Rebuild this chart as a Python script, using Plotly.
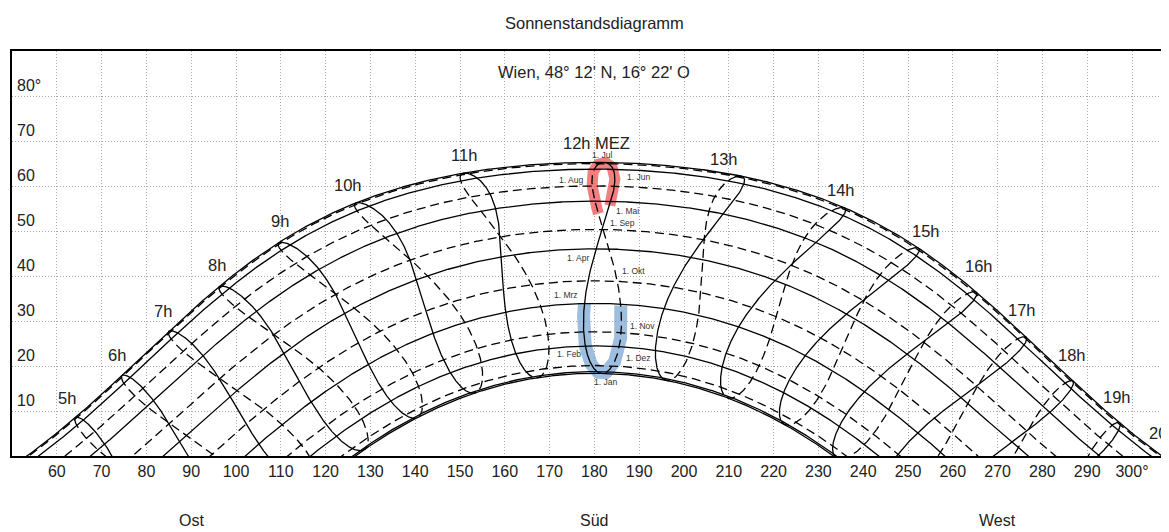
import numpy as np
import plotly.graph_objects as go

# ------------------------------------------------------------------ data
CHART_TITLE = "Sonnenstandsdiagramm"
SITE_TITLE = "Wien, 48° 12' N, 16° 22' O"
LATITUDE_DEG = 48 + 12 / 60          # 48° 12' N
LONGITUDE_DEG = 16 + 22 / 60         # 16° 22' O
UTC_OFFSET_H = 1                      # MEZ

DATE_LABELS = ["1. Jan", "1. Feb", "1. Mrz", "1. Apr", "1. Mai", "1. Jun",
               "1. Jul", "1. Aug", "1. Sep", "1. Okt", "1. Nov", "1. Dez"]
DATE_DAY_OF_YEAR = [1, 32, 60, 91, 121, 152, 182, 213, 244, 274, 305, 335]
SOLSTICE_DAY_OF_YEAR = [172, 355]     # 21. Jun, 21. Dez
HALF_YEAR_SPLIT_DAY = 182             # 1. Jul: solid before, dashed after

HOURS_MEZ = [5, 6, 7, 8, 9, 10, 11, 12, 13, 14, 15, 16, 17, 18, 19, 20]
HOUR_LABELS = ["5h", "6h", "7h", "8h", "9h", "10h", "11h", "12h MEZ",
               "13h", "14h", "15h", "16h", "17h", "18h", "19h", "20h"]

AZIMUTH_TICKS = [60, 70, 80, 90, 100, 110, 120, 130, 140, 150, 160, 170, 180,
                 190, 200, 210, 220, 230, 240, 250, 260, 270, 280, 290, 300]
AZIMUTH_TICK_LABELS = ["60", "70", "80", "90", "100", "110", "120", "130",
                       "140", "150", "160", "170", "180", "190", "200", "210",
                       "220", "230", "240", "250", "260", "270", "280", "290",
                       "300°"]
ALTITUDE_TICKS = [10, 20, 30, 40, 50, 60, 70, 80]
ALTITUDE_TICK_LABELS = ["10", "20", "30", "40", "50", "60", "70", "80°"]
DIRECTION_LABELS = ["Ost", "Süd", "West"]
DIRECTION_AZIMUTHS = [90, 180, 270]

# highlighted stretches of the 12h MEZ line (day of year, start -> end)
MARK_HOUR = 12
SUMMER_MARK_DAYS = (118, 234)        # ~28. Apr .. ~22. Aug
WINTER_MARK_DAYS = (288, 425)        # ~15. Okt .. ~1. Mrz (next year)

# ------------------------------------------------------------------ layout / style
PAGE_OFFSET = 8                      # default body margin of the html page
W, H = 1169 - PAGE_OFFSET, 532 - PAGE_OFFSET
M_L, M_R, M_T, M_B = 12 - PAGE_OFFSET, 0, 51 - PAGE_OFFSET, 76
PX_PER_DEG_X = 4.48
PX_PER_DEG_Y = 4.5
X0 = 50
X1 = X0 + (W - M_L - M_R) / PX_PER_DEG_X
FONT = "Liberation Sans, Arial, Helvetica, sans-serif"
TXT = "#222222"
LW = 1.3
DASH = "9px,5px"

# pixel offsets (dx right, dy down) of hour labels from the 21 Jun point
HOUR_LABEL_OFFSETS = [(-9, -19), (-5, -20), (-6, -20), (-3, -21), (1, -21),
                      (-8, -18), (0, -18), (-8, -19), (-18, -17), (-4, -18),
                      (7, -17), (2, -26), (-4, -27), (-1, -26), (-3, -26),
                      (-6, -28)]
# date label placement next to the 12h line: (xanchor, xshift, yshift)
DATE_LABEL_STYLE = [("center", 8, -10), ("right", -2, -8), ("right", -4, 8),
                    ("right", -5, -9), ("left", 3, -10), ("left", 12, -8),
                    ("center", 3, 9), ("right", -7, 6), ("left", 5, 6),
                    ("left", 3, 10), ("left", 7, 7), ("left", 12, 8)]


def sun_position(day_of_year, hour_mez):
    """Azimuth (from north, clockwise) and altitude in degrees."""
    d = np.asarray(day_of_year, dtype=float)
    t = np.asarray(hour_mez, dtype=float)
    g = 2 * np.pi / 365 * (d - 1 + (t - 12) / 24)
    eot = 229.18 * (0.000075 + 0.001868 * np.cos(g) - 0.032077 * np.sin(g)
                    - 0.014615 * np.cos(2 * g) - 0.040849 * np.sin(2 * g))
    decl = (0.006918 - 0.399912 * np.cos(g) + 0.070257 * np.sin(g)
            - 0.006758 * np.cos(2 * g) + 0.000907 * np.sin(2 * g)
            - 0.002697 * np.cos(3 * g) + 0.00148 * np.sin(3 * g))
    tst = t * 60 + eot + 4 * LONGITUDE_DEG - 60 * UTC_OFFSET_H
    ha = np.radians(tst / 4 - 180)
    lat = np.radians(LATITUDE_DEG)
    alt = np.degrees(np.arcsin(np.sin(lat) * np.sin(decl)
                               + np.cos(lat) * np.cos(decl) * np.cos(ha)))
    az = 180 + np.degrees(np.arctan2(np.sin(ha),
                                     np.cos(ha) * np.sin(lat)
                                     - np.tan(decl) * np.cos(lat)))
    return az, alt


def append(xs, ys, az, alt):
    az = np.where(alt < -15, np.nan, az)
    xs.extend(list(az) + [None])
    ys.extend(list(alt) + [None])


fig = go.Figure()

# summer / winter highlights along the 12h line (drawn below the black lines)
for (d0, d1), col, wid in [(SUMMER_MARK_DAYS, "rgba(238,78,78,0.72)", 11),
                           (WINTER_MARK_DAYS, "rgba(120,165,212,0.72)", 13)]:
    dd = np.arange(d0, d1 + 0.01, 0.25)
    az, alt = sun_position(dd, np.full_like(dd, MARK_HOUR))
    fig.add_trace(go.Scatter(x=az, y=alt, mode="lines",
                             line=dict(color=col, width=wid),
                             hoverinfo="skip", showlegend=False))

solid_x, solid_y, dash_x, dash_y = [], [], [], []

# day curves (sun path over one day)
t_day = np.arange(2.5, 21.6, 0.01)
for doy in DATE_DAY_OF_YEAR + SOLSTICE_DAY_OF_YEAR:
    az, alt = sun_position(np.full_like(t_day, doy), t_day)
    if doy < HALF_YEAR_SPLIT_DAY or doy in SOLSTICE_DAY_OF_YEAR:
        append(solid_x, solid_y, az, alt)
    else:
        append(dash_x, dash_y, az, alt)

# hour curves (analemmas)
d_first = np.arange(1, HALF_YEAR_SPLIT_DAY + 0.01, 0.25)
d_second = np.arange(HALF_YEAR_SPLIT_DAY, 366.01, 0.25)
for hr in HOURS_MEZ:
    az, alt = sun_position(d_first, np.full_like(d_first, hr))
    append(solid_x, solid_y, az, alt)
    az, alt = sun_position(d_second, np.full_like(d_second, hr))
    append(dash_x, dash_y, az, alt)

fig.add_trace(go.Scatter(x=solid_x, y=solid_y, mode="lines",
                         line=dict(color="black", width=LW),
                         hoverinfo="skip", showlegend=False))
fig.add_trace(go.Scatter(x=dash_x, y=dash_y, mode="lines",
                         line=dict(color="black", width=LW, dash=DASH),
                         hoverinfo="skip", showlegend=False))

ann = []

# hour labels at the 21 Jun point of each hour line
for hr, lab, (dx, dy) in zip(HOURS_MEZ, HOUR_LABELS, HOUR_LABEL_OFFSETS):
    az, alt = sun_position(SOLSTICE_DAY_OF_YEAR[0], hr)
    ann.append(dict(x=float(az) + dx / PX_PER_DEG_X,
                    y=float(alt) - dy / PX_PER_DEG_Y,
                    xref="x", yref="y", text=lab, showarrow=False,
                    xanchor="center", yanchor="middle",
                    font=dict(family=FONT, size=16.5, color=TXT)))

# date labels next to the 12h line
for doy, lab, (xa, xs_, ys_) in zip(DATE_DAY_OF_YEAR, DATE_LABELS, DATE_LABEL_STYLE):
    az, alt = sun_position(doy, 12)
    ann.append(dict(x=float(az), y=float(alt), xref="x", yref="y", text=lab,
                    showarrow=False, xanchor=xa, yanchor="middle",
                    xshift=xs_, yshift=ys_,
                    font=dict(family=FONT, size=8.5, color="#333333")))

# altitude labels inside the frame
for v, lab in zip(ALTITUDE_TICKS, ALTITUDE_TICK_LABELS):
    ann.append(dict(x=0, y=v, xref="paper", yref="y", text=lab, showarrow=False,
                    xanchor="left", yanchor="middle", xshift=3, yshift=11,
                    font=dict(family=FONT, size=16, color=TXT)))

# compass directions
for v, lab in zip(DIRECTION_AZIMUTHS, DIRECTION_LABELS):
    ann.append(dict(x=v, y=0, xref="x", yref="paper", text=lab, showarrow=False,
                    xanchor="center", yanchor="middle", yshift=-64,
                    font=dict(family=FONT, size=16, color=TXT)))

# titles
ann.append(dict(x=180, y=1, xref="x", yref="paper", text=CHART_TITLE,
                showarrow=False, xanchor="center", yanchor="middle", yshift=28,
                font=dict(family=FONT, size=16.5, color=TXT)))
ann.append(dict(x=180, y=1, xref="x", yref="paper", text=SITE_TITLE,
                showarrow=False, xanchor="center", yanchor="middle", yshift=-21,
                font=dict(family=FONT, size=16.5, color=TXT)))

grid = dict(showgrid=True, gridcolor="#a9a9a9", griddash="1px,2px", gridwidth=1,
            zeroline=False, showline=True, linecolor="black", linewidth=2,
            ticks="")
fig.update_layout(
    width=W, height=H,
    margin=dict(l=M_L, r=M_R, t=M_T, b=M_B),
    paper_bgcolor="white", plot_bgcolor="white",
    xaxis=dict(range=[X0, X1], tickmode="array", tickvals=AZIMUTH_TICKS,
               ticktext=AZIMUTH_TICK_LABELS, mirror=True,
               tickfont=dict(family=FONT, size=16, color=TXT), **grid),
    yaxis=dict(range=[0, 90], tickmode="array", tickvals=ALTITUDE_TICKS,
               showticklabels=False, mirror=False, **grid),
    annotations=ann,
    showlegend=False,
)

fig.write_html("out.html")
